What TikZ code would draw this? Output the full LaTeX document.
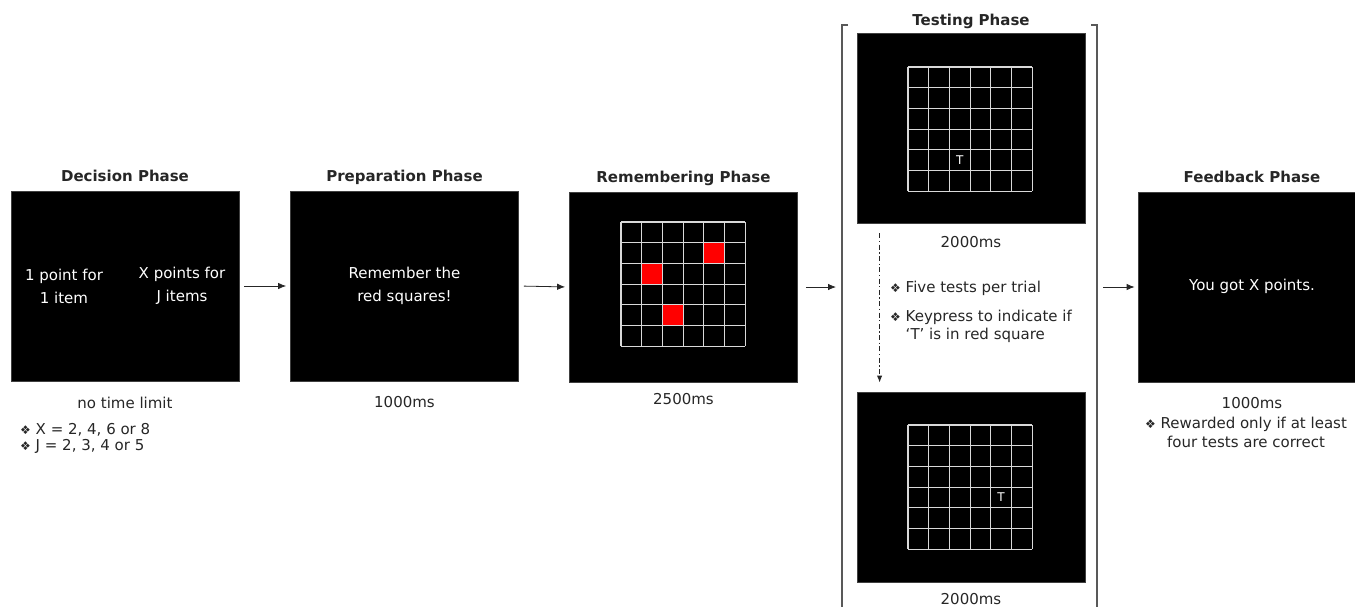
\documentclass[tikz,border=0pt]{standalone}
\usepackage{fontspec}
\setmainfont{DejaVu Sans}
\usetikzlibrary{positioning,arrows.meta}

\newcommand{\phasefont}{\fontsize{15}{19}\selectfont}
\newcommand{\bul}{{\fontsize{12}{12}\selectfont ❖}}

% 6x6 grid of 20.7 cells, #1,#2 = top-left corner
\newcommand{\cellgrid}[2]{%
  \foreach \k in {0,...,6} {
    \draw[gridline] (#1+\k*20.7,#2) -- (#1+\k*20.7,#2+124.2);
    \draw[gridline] (#1,#2+\k*20.7) -- (#1+124.2,#2+\k*20.7);
  }}
% red cell: corner #1,#2, column #3, row #4
\newcommand{\redcell}[4]{\fill[red] (#1+#3*20.7,#2+#4*20.7) rectangle ++(20.7,20.7);}

\begin{document}
\begin{tikzpicture}[x=1pt,y=-1pt,
    screen/.style={fill=black, draw=black!75, line width=0.8pt, minimum width=228pt, minimum height=190pt, inner sep=0pt},
    phase/.style={font=\phasefont\bfseries, text=black!85, inner sep=1pt, text height=11.5pt, text depth=3.5pt},
    timing/.style={font=\phasefont, text=black!85, inner sep=1pt},
    inscreen/.style={font=\phasefont, text=white, align=center},
    note/.style={font=\phasefont, text=black!85, align=left, inner sep=0pt},
    gridline/.style={draw=white!85!black, line width=1.2pt},
    tmark/.style={font=\fontsize{12}{12}\selectfont, text=white, inner sep=0pt},
    flow/.style={-{Latex[length=8pt,width=6.5pt]}, line width=0.8pt, black!85},
    bracket/.style={draw=black!65, line width=1.2pt},
    dashdot/.style={-{Latex[length=7pt,width=5.5pt]}, line width=1.1pt, black!85, dash pattern=on 5pt off 2.5pt on 1.3pt off 2.5pt}]
  \useasboundingbox (0,0) rectangle (1355,606);

  % the five screens
  \node[screen] (dec) at (125,286) {};
  \node[screen] (prep) at (404.5,286) {};
  \node[screen] (rem) at (683.5,287) {};
  \node[screen] (testA) at (971,128) {};
  \node[screen] (testB) at (971,487) {};
  \node[screen] (fb) at (1252,287) {};

  % titles
  \node[phase, above=4.5pt of dec] (decT) {Decision Phase};
  \node[phase, above=4.5pt of prep] (prepT) {Preparation Phase};
  \node[phase, above=4.5pt of rem] (remT) {Remembering Phase};
  \node[phase, above=2.5pt of testA] (testT) {Testing Phase};
  \node[phase, above=4.5pt of fb] (fbT) {Feedback Phase};

  % screen contents
  \node[inscreen] (one) at (64,286) {1 point for\\[4pt]1 item};
  \node[inscreen] (many) at (182,286) {X points for\\[4pt]J items};
  \node[inscreen] (remember) at (404.5,286) {Remember the\\[4pt]red squares!};
  \node[inscreen] (got) at (1252,286) {You got X points.};

  \redcell{621}{222}{4}{1}
  \redcell{621}{222}{1}{2}
  \redcell{621}{222}{2}{4}
  \cellgrid{621}{222}
  \cellgrid{908}{67}
  \cellgrid{908}{425}
  \node[tmark] (tA) at (908+2.5*20.7,67+4.5*20.7) {T};
  \node[tmark] (tB) at (908+4.5*20.7,425+3.5*20.7) {T};

  % timings and notes
  \node[timing, below=14pt of dec] (decD) {no time limit};
  \node[timing, below=14pt of prep] (prepD) {1000ms};
  \node[timing, below=10pt of rem] (remD) {2500ms};
  \node[timing, below=12pt of testA] (testAD) {2000ms};
  \node[timing, below=10pt of testB] (testBD) {2000ms};
  \node[timing, below=14pt of fb] (fbD) {1000ms};

  \node[note, anchor=north west] (xj) at (20,423)
    {\bul\ X = 2, 4, 6 or 8\\[-3pt]\bul\ J = 2, 3, 4 or 5};
  \node[note, anchor=north west] (five) at (890,281) {\bul\ Five tests per trial};
  \node[note, anchor=north west] (key) at (890,308)
    {\begin{tabular}{@{}l@{\ }l@{}}\bul & Keypress to indicate if\\[-1pt] & `T' is in red square\end{tabular}};
  \node[note, anchor=north, align=center] (reward) at (1246,417)
    {\bul\ Rewarded only if at least\\four tests are correct};

  % bracket round the testing phase
  \coordinate (brL) at (842,25);
  \coordinate (brR) at (1097,25);
  \draw[bracket] ([xshift=6pt]brL) -- (brL) -- (842,610);
  \draw[bracket] ([xshift=-6pt]brR) -- (brR) -- (1097,610);

  % flow
  \draw[flow, shorten <=5pt, shorten >=4pt] (dec.east) -- (prep.west);
  \draw[flow, shorten <=5pt, shorten >=4pt] (prep.east) -- (rem.west);
  \draw[flow, shorten <=8pt, shorten >=6pt] (rem.east) -- (rem.east -| brL);
  \draw[flow, shorten <=6pt, shorten >=3pt] (fb.west -| brR) -- (fb.west);
  \draw[dashdot] ([shift={(23,10)}]testA.south west) -- ([shift={(23,-9)}]testB.north west);
\end{tikzpicture}
\end{document}
